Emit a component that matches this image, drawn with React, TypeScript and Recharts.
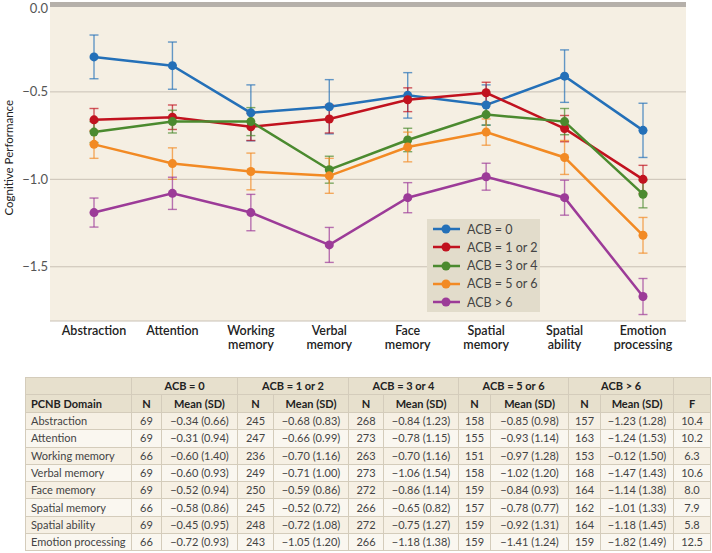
import React from 'react';
import {
  LineChart,
  Line,
  XAxis,
  YAxis,
  CartesianGrid,
  ReferenceLine,
  ErrorBar,
  Legend,
} from 'recharts';

// domains shown along the x axis
const categories = [
  'Abstraction',
  'Attention',
  'Working memory',
  'Verbal memory',
  'Face memory',
  'Spatial memory',
  'Spatial ability',
  'Emotion processing',
];

// plotted means and error bar half-widths
const acb0 = [-0.3, -0.35, -0.62, -0.585, -0.52, -0.575, -0.41, -0.72];
const acb0Err = [0.125, 0.135, 0.16, 0.155, 0.13, 0.115, 0.15, 0.155];
const acb12 = [-0.66, -0.645, -0.7, -0.655, -0.545, -0.505, -0.71, -1.0];
const acb12Err = [0.065, 0.07, 0.078, 0.08, 0.068, 0.06, 0.075, 0.08];
const acb34 = [-0.73, -0.67, -0.67, -0.945, -0.775, -0.63, -0.67, -1.085];
const acb34Err = [0.06, 0.065, 0.08, 0.077, 0.067, 0.06, 0.075, 0.078];
const acb56 = [-0.8, -0.91, -0.955, -0.98, -0.815, -0.73, -0.875, -1.32];
const acb56Err = [0.08, 0.09, 0.105, 0.1, 0.085, 0.075, 0.097, 0.102];
const acbGt6 = [-1.19, -1.08, -1.19, -1.375, -1.105, -0.985, -1.105, -1.67];
const acbGt6Err = [0.083, 0.092, 0.104, 0.1, 0.086, 0.077, 0.1, 0.103];

const yTicks = [0, -0.5, -1, -1.5];

// table below the chart
const groupLabels = ['ACB = 0', 'ACB = 1 or 2', 'ACB = 3 or 4', 'ACB = 5 or 6', 'ACB > 6'];
const nAcb0 = [69, 69, 66, 69, 69, 66, 69, 66];
const meanAcb0 = ['−0.34 (0.66)', '−0.31 (0.94)', '−0.60 (1.40)', '−0.60 (0.93)', '−0.52 (0.94)', '−0.58 (0.86)', '−0.45 (0.95)', '−0.72 (0.93)'];
const nAcb12 = [245, 247, 236, 249, 250, 245, 248, 243];
const meanAcb12 = ['−0.68 (0.83)', '−0.66 (0.99)', '−0.70 (1.16)', '−0.71 (1.00)', '−0.59 (0.86)', '−0.52 (0.72)', '−0.72 (1.08)', '−1.05 (1.20)'];
const nAcb34 = [268, 273, 263, 273, 272, 266, 272, 266];
const meanAcb34 = ['−0.84 (1.23)', '−0.78 (1.15)', '−0.70 (1.16)', '−1.06 (1.54)', '−0.86 (1.14)', '−0.65 (0.82)', '−0.75 (1.27)', '−1.18 (1.38)'];
const nAcb56 = [158, 155, 151, 158, 159, 157, 159, 159];
const meanAcb56 = ['−0.85 (0.98)', '−0.93 (1.14)', '−0.97 (1.28)', '−1.02 (1.20)', '−0.84 (0.93)', '−0.78 (0.77)', '−0.92 (1.31)', '−1.41 (1.24)'];
const nAcbGt6 = [157, 163, 153, 168, 164, 162, 164, 159];
const meanAcbGt6 = ['−1.23 (1.28)', '−1.24 (1.53)', '−0.12 (1.50)', '−1.47 (1.43)', '−1.14 (1.38)', '−1.01 (1.33)', '−1.18 (1.45)', '−1.82 (1.49)'];
const fValues = ['10.4', '10.2', '6.3', '10.6', '8.0', '7.9', '5.8', '12.5'];

const series = [
  { key: 'acb0', name: 'ACB = 0', color: '#2470b8', values: acb0, err: acb0Err },
  { key: 'acb12', name: 'ACB = 1 or 2', color: '#c1121f', values: acb12, err: acb12Err },
  { key: 'acb34', name: 'ACB = 3 or 4', color: '#4b8a2f', values: acb34, err: acb34Err },
  { key: 'acb56', name: 'ACB = 5 or 6', color: '#f28a24', values: acb56, err: acb56Err },
  { key: 'acbGt6', name: 'ACB > 6', color: '#9c3b98', values: acbGt6, err: acbGt6Err },
];

const chartData = categories.map((c, i) => {
  const row: any = { name: c };
  series.forEach((s) => {
    row[s.key] = s.values[i];
    row[s.key + 'Err'] = s.err[i];
  });
  return row;
});

const tableRows = categories.map((c, i) => [
  c,
  nAcb0[i], meanAcb0[i],
  nAcb12[i], meanAcb12[i],
  nAcb34[i], meanAcb34[i],
  nAcb56[i], meanAcb56[i],
  nAcbGt6[i], meanAcbGt6[i],
  fValues[i],
]);

const FONT = 'Lato, "Open Sans", sans-serif';

const XTick = (props: any) => {
  const { x, y, payload } = props;
  const words = String(payload.value).split(' ');
  return (
    <text x={x} y={y} textAnchor="middle" fill="#222" fontSize={12.5} fontWeight={600} fontFamily={FONT}>
      {words.map((w, i) => (
        <tspan key={i} x={x} dy={i === 0 ? 6 : 14}>
          {w}
        </tspan>
      ))}
    </text>
  );
};

// keeps the top label (0.0) inside the picture
const YTick = (props: any) => {
  const { x, y, payload } = props;
  const ty = Math.max(y, 8.5);
  return (
    <text x={x} y={ty} dy="0.355em" textAnchor="end" fill="#555" fontSize={13} fontFamily={FONT}>
      {Number(payload.value).toFixed(1).replace('-', '−')}
    </text>
  );
};

const YLabel = (props: any) => {
  const { viewBox } = props;
  const cy = viewBox ? viewBox.y + viewBox.height / 2 - 4 : 158;
  return (
    <text
      x={13}
      y={cy}
      transform={`rotate(-90, 13, ${cy})`}
      textAnchor="middle"
      fill="#222"
      fontSize={11.5}
      fontFamily={FONT}
    >
      Cognitive Performance
    </text>
  );
};

const LegendBox = (props: any) => {
  const { payload } = props;
  return (
    <div style={{ background: '#e2dccb', width: 113, padding: '1px 0', fontFamily: FONT }}>
      {(payload || []).map((p: any) => (
        <div key={p.value} style={{ display: 'flex', alignItems: 'center', height: 18.25 }}>
          <svg width={40} height={12} style={{ flex: 'none' }}>
            <line x1={6} y1={6} x2={33} y2={6} stroke={p.color} strokeWidth={2.5} />
            <circle cx={19} cy={6} r={4.5} fill={p.color} />
          </svg>
          <span style={{ fontSize: 12.5, color: '#444', whiteSpace: 'nowrap' }}>{p.value}</span>
        </div>
      ))}
    </div>
  );
};

const colW = [106, 30, 76, 36, 75, 35, 75, 32, 78, 32, 73, 37];

export default function App() {
  const cell: React.CSSProperties = {
    border: '1px solid #d4ccbb',
    padding: 0,
    height: 16.3,
    lineHeight: '16px',
    textAlign: 'center',
    whiteSpace: 'nowrap',
    overflow: 'hidden',
  };
  return (
    <div
      style={{
        position: 'absolute',
        left: 0,
        top: 0,
        width: 712,
        height: 553,
        overflow: 'hidden',
        background: '#fff',
        fontFamily: FONT,
      }}
    >
      <LineChart
        width={712}
        height={365}
        data={chartData}
        margin={{ top: 2.5, right: 26, left: 0, bottom: 0 }}
      >
        <CartesianGrid vertical={false} stroke="#c9c1b5" fill="#f5efe3" />
        <XAxis
          dataKey="name"
          axisLine={false}
          tickLine={false}
          interval={0}
          height={44}
          padding={{ left: 44, right: 43 }}
          tick={<XTick />}
        />
        <YAxis
          domain={[-1.81, 0.011]}
          ticks={yTicks}
          interval={0}
          allowDataOverflow
          width={50}
          axisLine={false}
          tickLine={false}
          tickSize={0}
          tickMargin={2}
          tick={<YTick />}
          label={<YLabel />}
        />
        <ReferenceLine y={0} stroke="#b5b0aa" strokeWidth={5} />
        <Legend
          layout="vertical"
          align="center"
          verticalAlign="middle"
          content={<LegendBox />}
          wrapperStyle={{ left: 427, top: 219, width: 113 }}
        />
        {series.map((s) => (
          <Line
            key={s.key}
            dataKey={s.key}
            name={s.name}
            stroke={s.color}
            strokeWidth={2.5}
            dot={{ r: 4.5, fill: s.color, stroke: s.color, strokeWidth: 0 }}
            activeDot={false}
            isAnimationActive={false}
          >
            <ErrorBar
              dataKey={s.key + 'Err'}
              width={4.5}
              stroke={s.color}
              strokeOpacity={0.7}
              strokeWidth={1.4}
              isAnimationActive={false}
            />
          </Line>
        ))}
      </LineChart>

      <table
        style={{
          position: 'absolute',
          left: 25,
          top: 377,
          borderCollapse: 'collapse',
          tableLayout: 'fixed',
          width: 685,
          fontSize: 11,
          color: '#444',
          fontFamily: FONT,
        }}
      >
        <colgroup>
          {colW.map((w, i) => (
            <col key={i} style={{ width: w }} />
          ))}
        </colgroup>
        <thead>
          <tr style={{ background: '#e7e0cd', color: '#222', fontWeight: 700 }}>
            <th style={{ ...cell, height: 15 }} />
            {groupLabels.map((g) => (
              <th key={g} colSpan={2} style={{ ...cell, height: 15 }}>
                {g}
              </th>
            ))}
            <th style={{ ...cell, height: 15 }} />
          </tr>
          <tr style={{ background: '#e7e0cd', color: '#222', fontWeight: 700 }}>
            <th style={{ ...cell, textAlign: 'left', paddingLeft: 5, height: 17 }}>PCNB Domain</th>
            {groupLabels.map((g) => (
              <React.Fragment key={g}>
                <th style={{ ...cell, height: 17 }}>N</th>
                <th style={{ ...cell, height: 17 }}>Mean (SD)</th>
              </React.Fragment>
            ))}
            <th style={{ ...cell, height: 17 }}>F</th>
          </tr>
        </thead>
        <tbody>
          {tableRows.map((r, i) => (
            <tr key={i} style={{ background: i % 2 === 0 ? '#f6f0e4' : '#faf7f0' }}>
              {r.map((v, j) => (
                <td key={j} style={j === 0 ? { ...cell, textAlign: 'left', paddingLeft: 5 } : cell}>
                  {v}
                </td>
              ))}
            </tr>
          ))}
        </tbody>
      </table>
    </div>
  );
}
